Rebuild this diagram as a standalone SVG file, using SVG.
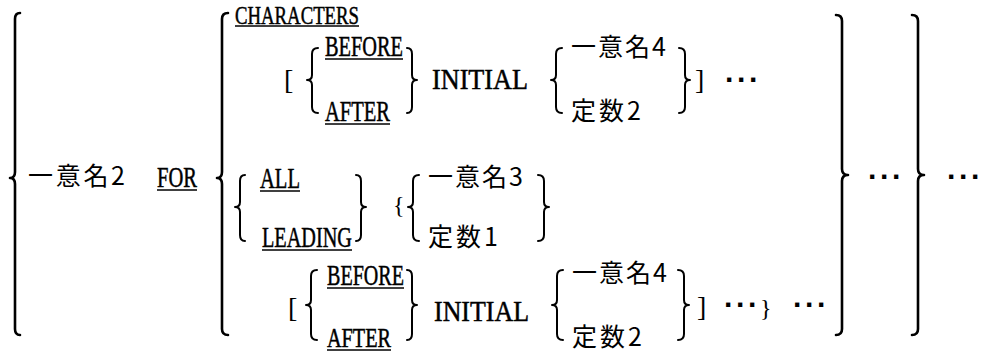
<svg xmlns="http://www.w3.org/2000/svg" width="983" height="353" viewBox="0 0 983 353">
<style>
.kw{font-family:"Liberation Serif",serif;font-size:29px;fill:#000;stroke:#000;stroke-width:0.5}
.jp{font-family:"Noto Sans CJK JP","Noto Sans",sans-serif;font-size:25px;fill:#000}
.br{font-family:"Liberation Serif",serif;font-size:28px;fill:#000}
.dots{font-family:"Liberation Sans",sans-serif;font-weight:bold;font-size:30px;fill:#000}
.ul{stroke:#000;stroke-width:1.6}
.bl{fill:none;stroke:#000;stroke-width:2.6;stroke-linecap:round;stroke-linejoin:round}
.bs{fill:none;stroke:#000;stroke-width:2;stroke-linecap:round;stroke-linejoin:round}
</style>
<rect width="983" height="353" fill="#fff"/>

<g id="outer-left">
<path class="bl" d="M20,13 Q15,13 15,19 L15,172 Q15,178 10,178 Q15,178 15,184 L15,329 Q15,335 20,335"/>
<text class="jp" x="28" y="185" textLength="97">一意名2</text>
<text class="kw" x="157" y="187" textLength="40" lengthAdjust="spacingAndGlyphs">FOR</text>
<line class="ul" x1="157" y1="190" x2="197" y2="190"/>
<path class="bl" d="M228,13 Q222,13 222,19 L222,172 Q222,178 217,178 Q222,178 222,184 L222,329 Q222,335 228,335"/>
</g>

<g id="characters-clause">
<text class="kw" x="235" y="23.5" textLength="124" lengthAdjust="spacingAndGlyphs" style="font-size:26px">CHARACTERS</text>
<line class="ul" x1="235" y1="26" x2="359" y2="26"/>
<text class="br" x="284" y="89">[</text>
<path class="bs" d="M318,48 Q312,48 312,54 L312,75 Q312,80 307,80 Q312,80 312,85 L312,107 Q312,113 318,113"/>
<text class="kw" x="325" y="56" textLength="78" lengthAdjust="spacingAndGlyphs">BEFORE</text>
<line class="ul" x1="325" y1="59" x2="403" y2="59"/>
<text class="kw" x="325" y="121" textLength="65" lengthAdjust="spacingAndGlyphs">AFTER</text>
<line class="ul" x1="325" y1="124" x2="390" y2="124"/>
<path class="bs" d="M407,48 Q412,48 412,54 L412,75 Q412,80 417,80 Q412,80 412,85 L412,107 Q412,113 407,113"/>
<text class="kw" x="432" y="89" textLength="96" lengthAdjust="spacingAndGlyphs">INITIAL</text>
<path class="bs" d="M562,48 Q556,48 556,54 L556,75 Q556,80 551,80 Q556,80 556,85 L556,107 Q556,113 562,113"/>
<text class="jp" x="571" y="56" textLength="95">一意名4</text>
<text class="jp" x="571" y="120" textLength="70">定数2</text>
<path class="bs" d="M679,48 Q685,48 685,54 L685,75 Q685,80 690,80 Q685,80 685,85 L685,107 Q685,113 679,113"/>
<text class="br" x="695" y="89">]</text>
<text class="dots" x="725 737 749" y="90">···</text>
</g>

<g id="all-leading-clause">
<path class="bs" d="M245,175 Q240,175 240,181 L240,202 Q240,207 235,207 Q240,207 240,212 L240,235 Q240,241 245,241"/>
<text class="kw" x="260" y="188" textLength="40" lengthAdjust="spacingAndGlyphs">ALL</text>
<line class="ul" x1="260" y1="191" x2="300" y2="191"/>
<text class="kw" x="262" y="247" textLength="90" lengthAdjust="spacingAndGlyphs">LEADING</text>
<line class="ul" x1="262" y1="250" x2="352" y2="250"/>
<path class="bs" d="M356,175 Q361,175 361,181 L361,202 Q361,207 366,207 Q361,207 361,212 L361,235 Q361,241 356,241"/>
<text class="br" x="393" y="213" style="font-size:24px">{</text>
<path class="bs" d="M419,175 Q413,175 413,181 L413,202 Q413,207 408,207 Q413,207 413,212 L413,235 Q413,241 419,241"/>
<text class="jp" x="428" y="186" textLength="95">一意名3</text>
<text class="jp" x="428" y="246" textLength="70">定数1</text>
<path class="bs" d="M538,175 Q544,175 544,181 L544,202 Q544,207 549,207 Q544,207 544,212 L544,235 Q544,241 538,241"/>
</g>

<g id="before-after-clause">
<text class="br" x="288" y="317">[</text>
<path class="bs" d="M317,270 Q311,270 311,276 L311,300 Q311,305 306,305 Q311,305 311,310 L311,334 Q311,340 317,340"/>
<text class="kw" x="327" y="285" textLength="77" lengthAdjust="spacingAndGlyphs">BEFORE</text>
<line class="ul" x1="327" y1="288" x2="404" y2="288"/>
<text class="kw" x="327" y="347" textLength="64" lengthAdjust="spacingAndGlyphs" style="font-size:27px">AFTER</text>
<line class="ul" x1="327" y1="350" x2="391" y2="350"/>
<path class="bs" d="M407,270 Q412,270 412,276 L412,300 Q412,305 417,305 Q412,305 412,310 L412,334 Q412,340 407,340"/>
<text class="kw" x="434" y="321" textLength="95" lengthAdjust="spacingAndGlyphs">INITIAL</text>
<path class="bs" d="M563,270 Q557,270 557,276 L557,300 Q557,305 552,305 Q557,305 557,310 L557,334 Q557,340 563,340"/>
<text class="jp" x="572" y="282" textLength="95">一意名4</text>
<text class="jp" x="572" y="346" textLength="70">定数2</text>
<path class="bs" d="M678,270 Q684,270 684,276 L684,300 Q684,305 689,305 Q684,305 684,310 L684,334 Q684,340 678,340"/>
<text class="br" x="697" y="316">]</text>
<text class="dots" x="724 736 748" y="315">···</text>
<text class="br" x="760" y="316" style="font-size:24px">}</text>
<text class="dots" x="793 805 817" y="315">···</text>
</g>

<g id="outer-right">
<path class="bl" d="M836,15 Q842,15 842,21 L842,169 Q842,175 848,175 Q842,175 842,181 L842,329 Q842,335 836,335"/>
<text class="dots" x="868 880 892" y="187">···</text>
<path class="bl" d="M912,15 Q918,15 918,21 L918,169 Q918,175 924,175 Q918,175 918,181 L918,329 Q918,335 912,335"/>
<text class="dots" x="947 959 971" y="187">···</text>
</g>
</svg>
